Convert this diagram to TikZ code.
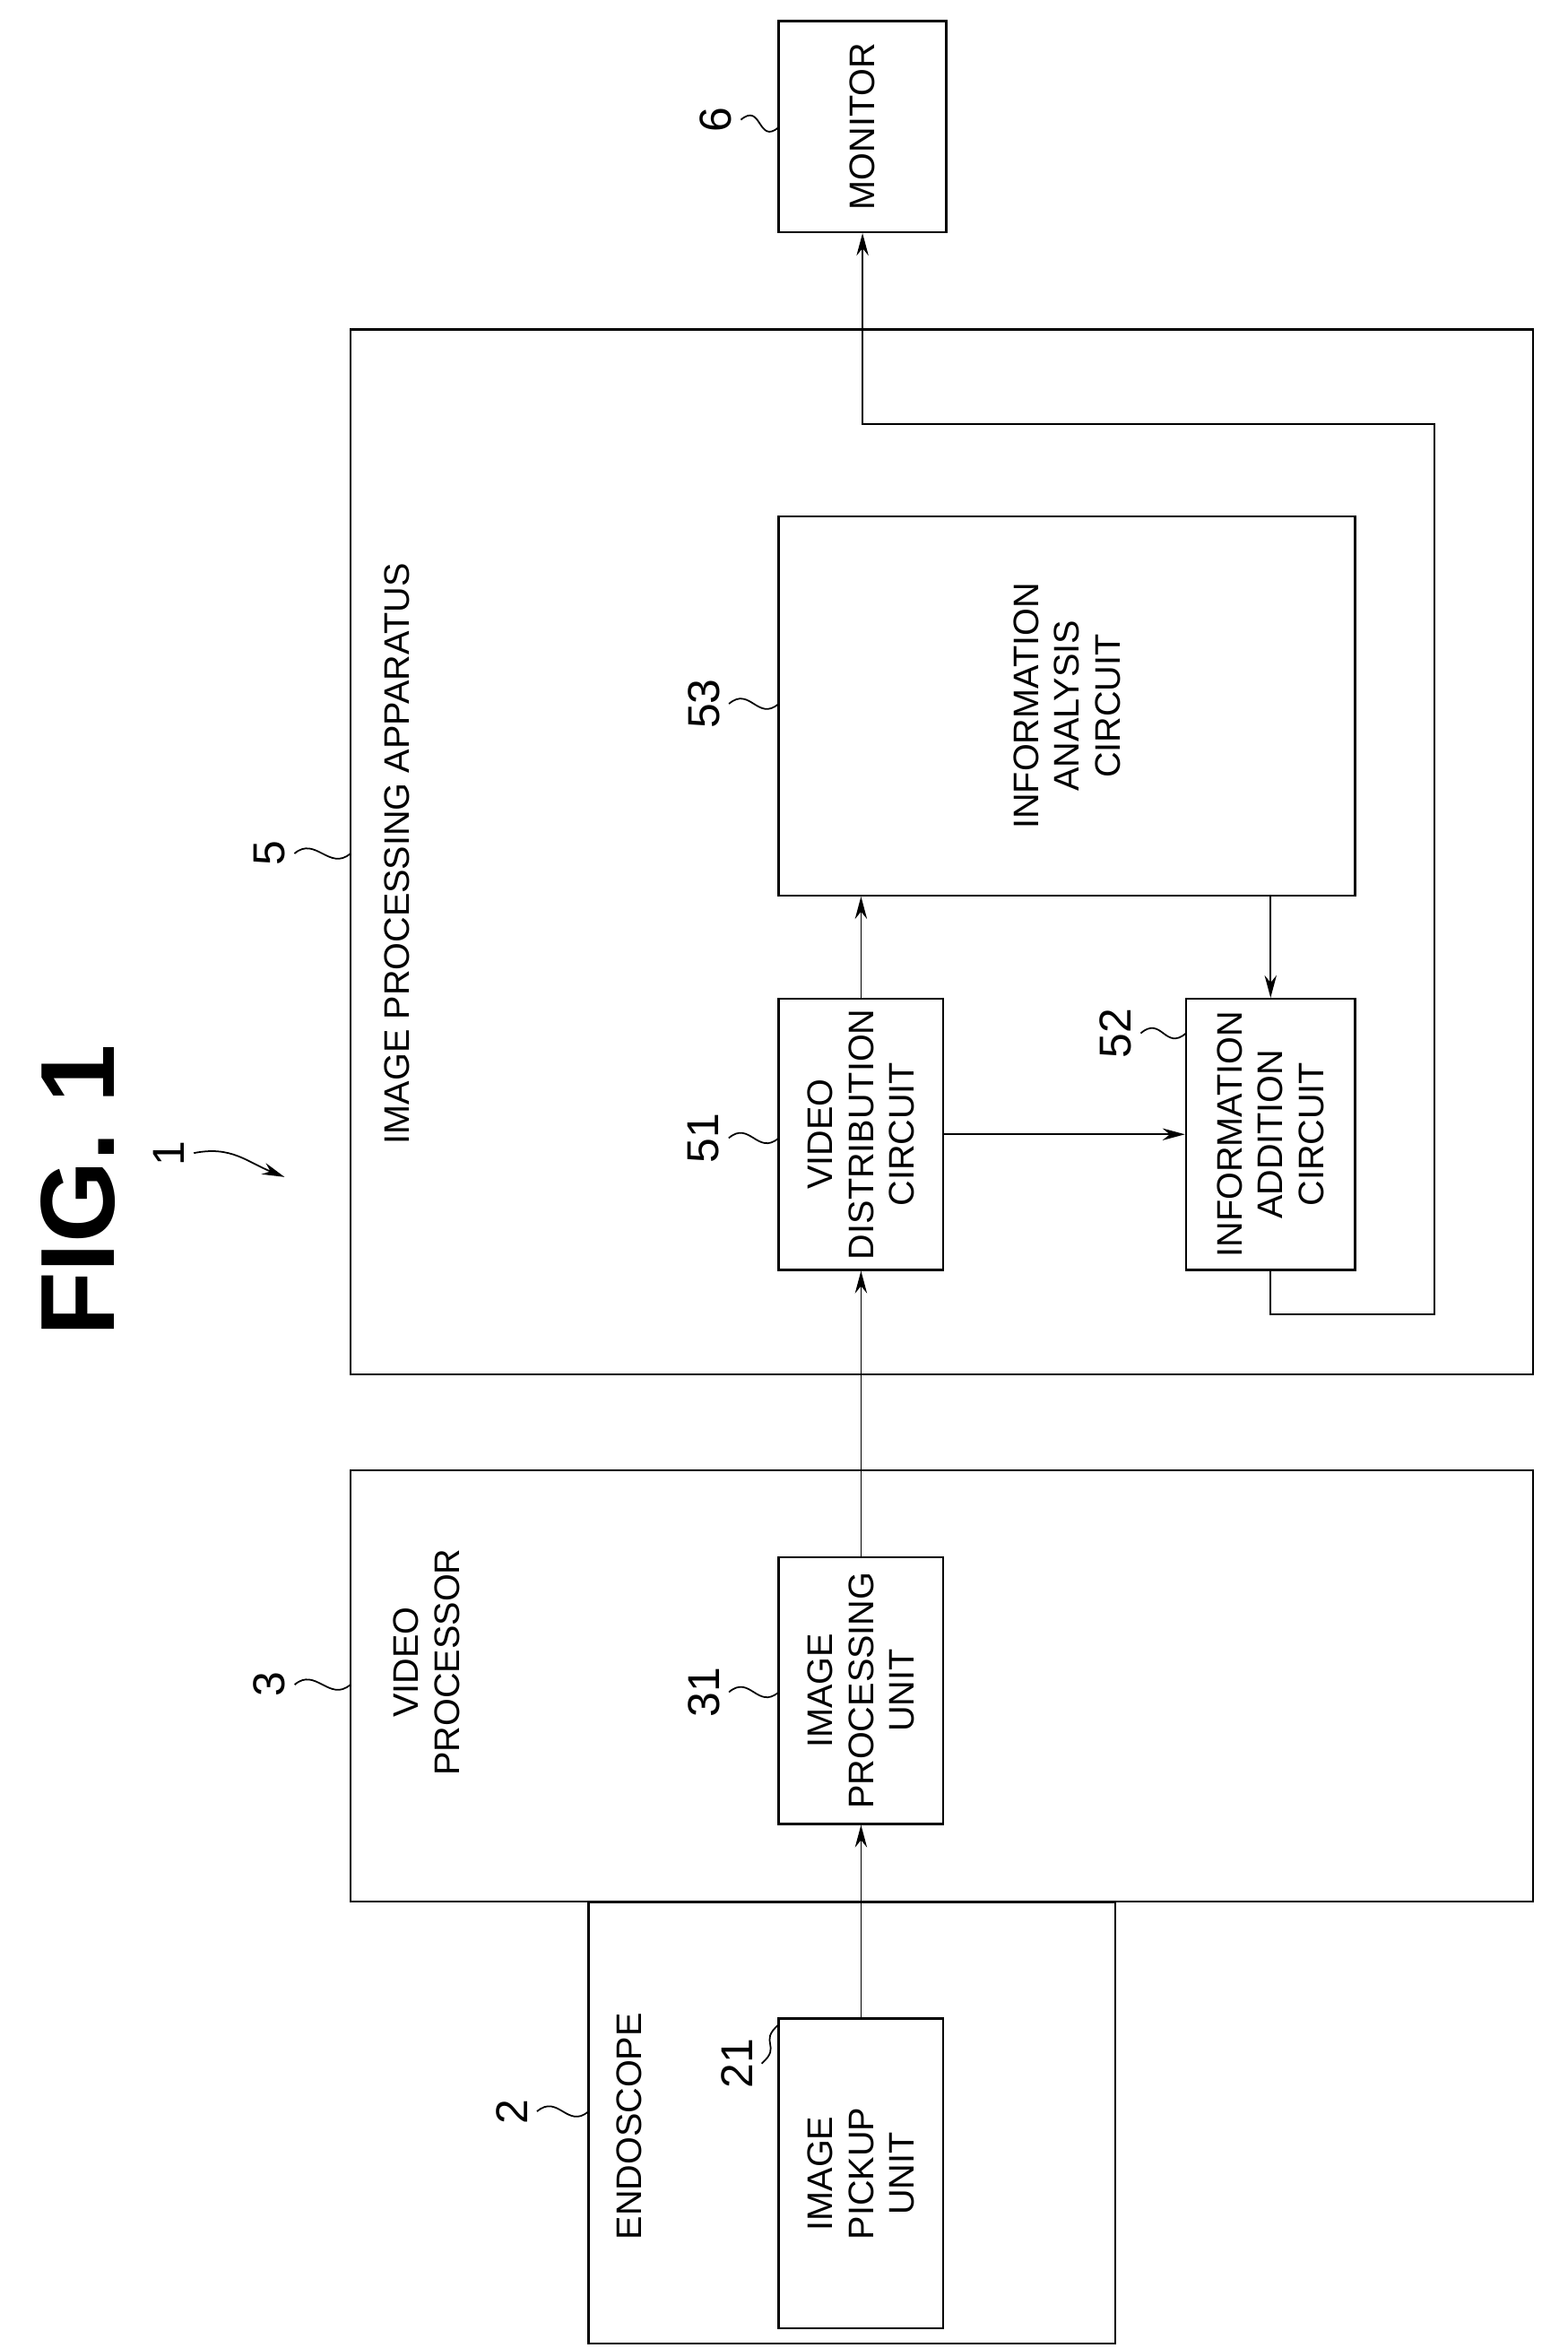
\documentclass[tikz,border=0pt]{standalone}
\usepackage{fontspec}
\setmainfont{Liberation Sans}
\usetikzlibrary{arrows.meta}

\tikzset{
    blk/.style={draw, thick, inner sep=0pt},
    lbl/.style={rotate=90, align=center, font=\fontsize{13.5}{15.5}\selectfont},
    num/.style={rotate=90, font=\fontsize{17}{19}\selectfont},
    leader/.style={semithick},
    arr/.style={semithick, -{Stealth[length=3mm, width=1.6mm]}}
}

\begin{document}
\begin{tikzpicture}[x=0.02cm, y=-0.02cm]

\useasboundingbox (0,0) rectangle (1047,1568);

\node[rotate=90, font=\fontsize{40}{42}\selectfont\bfseries] (title) at (52,795) {FIG. 1};

% outer units
\node[blk, minimum width=15.8cm, minimum height=13.96cm] (ipa) at (629,569) {};
\node[blk, minimum width=15.8cm, minimum height=5.76cm] (vp) at (629,1126) {};
\node[blk, minimum width=7.04cm, minimum height=5.9cm] (endo) at (569,1417.5) {};
\node[blk, minimum width=2.24cm, minimum height=2.82cm] (mon) at (576,84.5) {};

% inner blocks
\node[blk, minimum width=7.7cm, minimum height=5.06cm] (iac) at (712.5,471.5) {};
\node[blk, minimum width=2.2cm, minimum height=3.62cm] (vdc) at (575,757.5) {};
\node[blk, minimum width=2.26cm, minimum height=3.62cm] (iadd) at (848.5,757.5) {};
\node[blk, minimum width=2.2cm, minimum height=3.56cm] (ipu) at (575,1129) {};
\node[blk, minimum width=2.2cm, minimum height=4.14cm] (pick) at (575,1451.5) {};

% texts
\node[lbl] (tmon) at (mon) {MONITOR};
\node[lbl] (tipa) at (265,570) {IMAGE PROCESSING APPARATUS};
\node[lbl] (tiac) at (iac) {INFORMATION\\ANALYSIS\\CIRCUIT};
\node[lbl] (tvdc) at (vdc) {VIDEO\\DISTRIBUTION\\CIRCUIT};
\node[lbl] (tiadd) at (iadd) {INFORMATION\\ADDITION\\CIRCUIT};
\node[lbl] (tvp) at (285,1110) {VIDEO\\PROCESSOR};
\node[lbl] (tipu) at (ipu) {IMAGE\\PROCESSING\\UNIT};
\node[lbl] (tendo) at (420,1420) {ENDOSCOPE};
\node[lbl] (tpick) at (pick) {IMAGE\\PICKUP\\UNIT};

% reference numbers
\node[num] (n1) at (113,770) {1};
\node[num] (n2) at (342,1410) {2};
\node[num] (n3) at (180,1125) {3};
\node[num] (n5) at (180,570) {5};
\node[num] (n6) at (478,80) {6};
\node[num] (n21) at (492,1378) {21};
\node[num] (n31) at (470,1130) {31};
\node[num] (n51) at (470,760) {51};
\node[num] (n52) at (745,690) {52};
\node[num] (n53) at (470,470) {53};

\coordinate (p1) at (190,786);
\coordinate (p2) at (393,1410);
\coordinate (p3) at (234,1125);
\coordinate (p5) at (234,570);
\coordinate (p6) at (520,85);
\coordinate (p21) at (520,1352);
\coordinate (p31) at (520,1130);
\coordinate (p51) at (520,760);
\coordinate (p52) at (792,690);
\coordinate (p53) at (520,470);

\draw[arr] (n1.south) .. controls +(25,-5) and +(-25,-10) .. (p1);
\foreach \v in {2,3,5,6,21,31,51,52,53}
{
    \draw[leader] (n\v.south) .. controls +(14,-12) and +(-14,12) .. (p\v);
}

% signal flow
\coordinate (turn) at (958,283);
\draw[arr] (pick) -- (ipu);
\draw[arr] (ipu) -- (vdc);
\draw[arr] (vdc.north) -- (vdc.north |- iac.south);
\draw[arr] (vdc) -- (iadd);
\draw[arr] (iac.south -| iadd) -- (iadd.north);
\draw[arr] (iadd.south) -- ++(0,29) -| (turn) -| (mon.south);

\end{tikzpicture}
\end{document}
